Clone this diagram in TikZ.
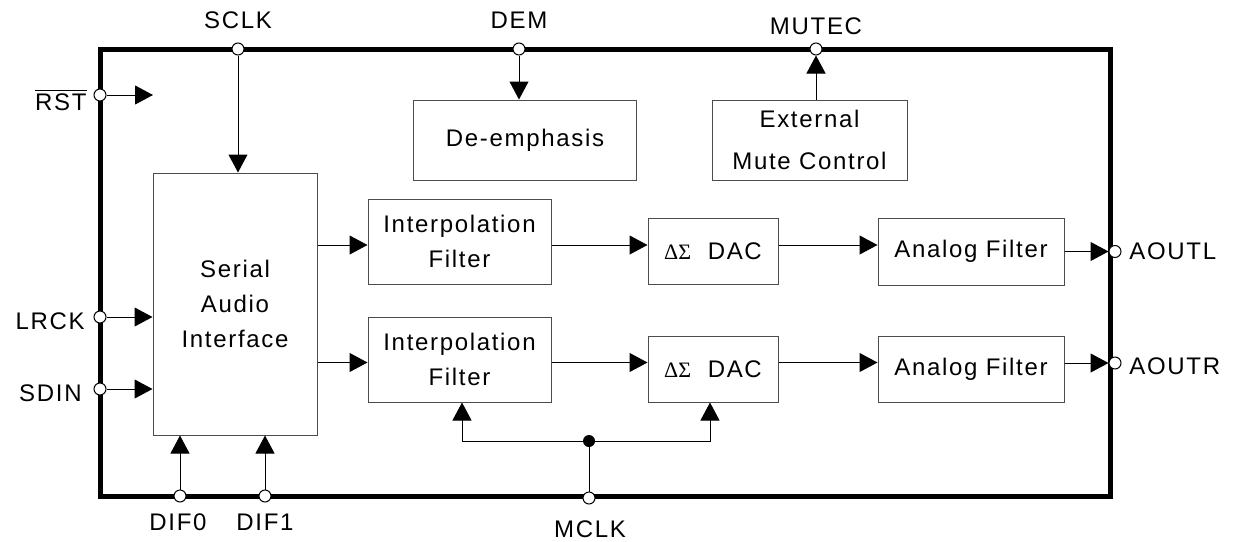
\documentclass[tikz,border=0pt]{standalone}
\usepackage{fontspec}
\setmainfont{Liberation Sans}[LetterSpace=7]
\newfontfamily\greekfont{Liberation Serif}
\usetikzlibrary{arrows.meta}
\newcommand{\dsdac}{{\greekfont\fontsize{11}{11}\selectfont ΔΣ}\ \ DAC}

\begin{document}
\begin{tikzpicture}[x=0.5pt, y=-0.5pt,
    blk/.style={draw=black!70, line width=0.5pt, inner sep=0pt, align=center,
      font=\fontsize{12}{17.5}\selectfont},
    sig/.style={draw, line width=0.5pt, -{Triangle[length=9pt,width=9.5pt]}},
    pin/.style={circle, draw, fill=white, line width=0.5pt, inner sep=0pt, minimum size=6pt},
    tap/.style={circle, fill, inner sep=0pt, minimum size=6pt},
    lbl/.style={font=\fontsize{12}{14}\selectfont, inner sep=0pt}]
  \useasboundingbox (0,0) rectangle (1236,541);
  % chip outline
  \draw[line width=2.5pt] (100,49) rectangle (1110,496);

  % blocks
  \node[blk, minimum width=82pt, minimum height=131pt] (sai) at (235,304) {Serial\\Audio\\Interface};
  \node[blk, minimum width=111.5pt, minimum height=40pt] (deemph) at (525,140) {De-emphasis};
  \node[blk, minimum width=97.5pt, minimum height=40pt, font=\fontsize{12}{21}\selectfont] (emc) at (809.5,140) {External\\Mute Control};
  \node[blk, minimum width=91.5pt, minimum height=42.5pt] (interp1) at (459.5,241.5) {Interpolation\\Filter};
  \node[blk, minimum width=91.5pt, minimum height=42.5pt] (interp2) at (459.5,359.5) {Interpolation\\Filter};
  \node[blk, minimum width=65pt, minimum height=33pt] (dac1) at (713,251) {\dsdac};
  \node[blk, minimum width=65pt, minimum height=33pt] (dac2) at (713,369) {\dsdac};
  \node[blk, minimum width=93pt, minimum height=33.5pt] (af1) at (971,251.5) {Analog Filter};
  \node[blk, minimum width=93pt, minimum height=33pt] (af2) at (971,369) {Analog Filter};

  % pins
  \node[pin] (rst) at (100,95) {};
  \node[pin] (sclk) at (238,49) {};
  \node[pin] (dem) at (519,49) {};
  \node[pin] (mutec) at (816,49) {};
  \node[pin] (lrck) at (100,317) {};
  \node[pin] (sdin) at (100,389) {};
  \node[pin] (dif0) at (180,496) {};
  \node[pin] (dif1) at (265,496) {};
  \node[pin] (mclk) at (589,498) {};
  \node[pin] (aoutl) at (1115,251.5) {};
  \node[pin] (aoutr) at (1115,363) {};

  % pin names
  \node[lbl, anchor=east] at (87,100) {$\overline{\mbox{RST}}$};
  \node[lbl] at (238,20) {SCLK};
  \node[lbl] at (519,20) {DEM};
  \node[lbl] at (816,26) {MUTEC};
  \node[lbl, anchor=east] at (85,321) {LRCK};
  \node[lbl, anchor=east] at (82,393) {SDIN};
  \node[lbl] at (178,522) {DIF0};
  \node[lbl] at (265,522) {DIF1};
  \node[lbl] at (590,529) {MCLK};
  \node[lbl, anchor=west] at (1129,251.5) {AOUTL};
  \node[lbl, anchor=west] at (1129,366) {AOUTR};

  % signals
  \coordinate (rstend) at (153,95);
  \coordinate (rowL) at (0,245);
  \coordinate (rowR) at (0,362.5);
  \coordinate (tapL) at (462,441);
  \coordinate (tapR) at (710,441);
  \node[tap] (clk) at (589,441) {};

  \draw[sig] (rst) -- (rstend);
  \draw[sig] (sclk) -- (sclk |- sai.north);
  \draw[sig] (dem) -- (dem |- deemph.north);
  \draw[sig] (emc.north -| mutec) -- (mutec);
  \draw[sig] (lrck) -- (lrck -| sai.west);
  \draw[sig] (sdin) -- (sdin -| sai.west);
  \draw[sig] (dif0) -- (dif0 |- sai.south);
  \draw[sig] (dif1) -- (dif1 |- sai.south);

  \draw[sig] (sai.east |- rowL) -- (interp1.west |- rowL);
  \draw[sig] (interp1.east |- rowL) -- (dac1.west |- rowL);
  \draw[sig] (dac1.east |- rowL) -- (af1.west |- rowL);
  \draw[sig] (af1.east) -- (aoutl);

  \draw[sig] (sai.east |- rowR) -- (interp2.west |- rowR);
  \draw[sig] (interp2.east |- rowR) -- (dac2.west |- rowR);
  \draw[sig] (dac2.east |- rowR) -- (af2.west |- rowR);
  \draw[sig] (af2.east |- aoutr) -- (aoutr);

  \draw (mclk) -- (clk);
  \draw[sig] (clk) -- (tapL) -- (tapL |- interp2.south);
  \draw[sig] (clk) -- (tapR) -- (tapR |- dac2.south);
\end{tikzpicture}
\end{document}
